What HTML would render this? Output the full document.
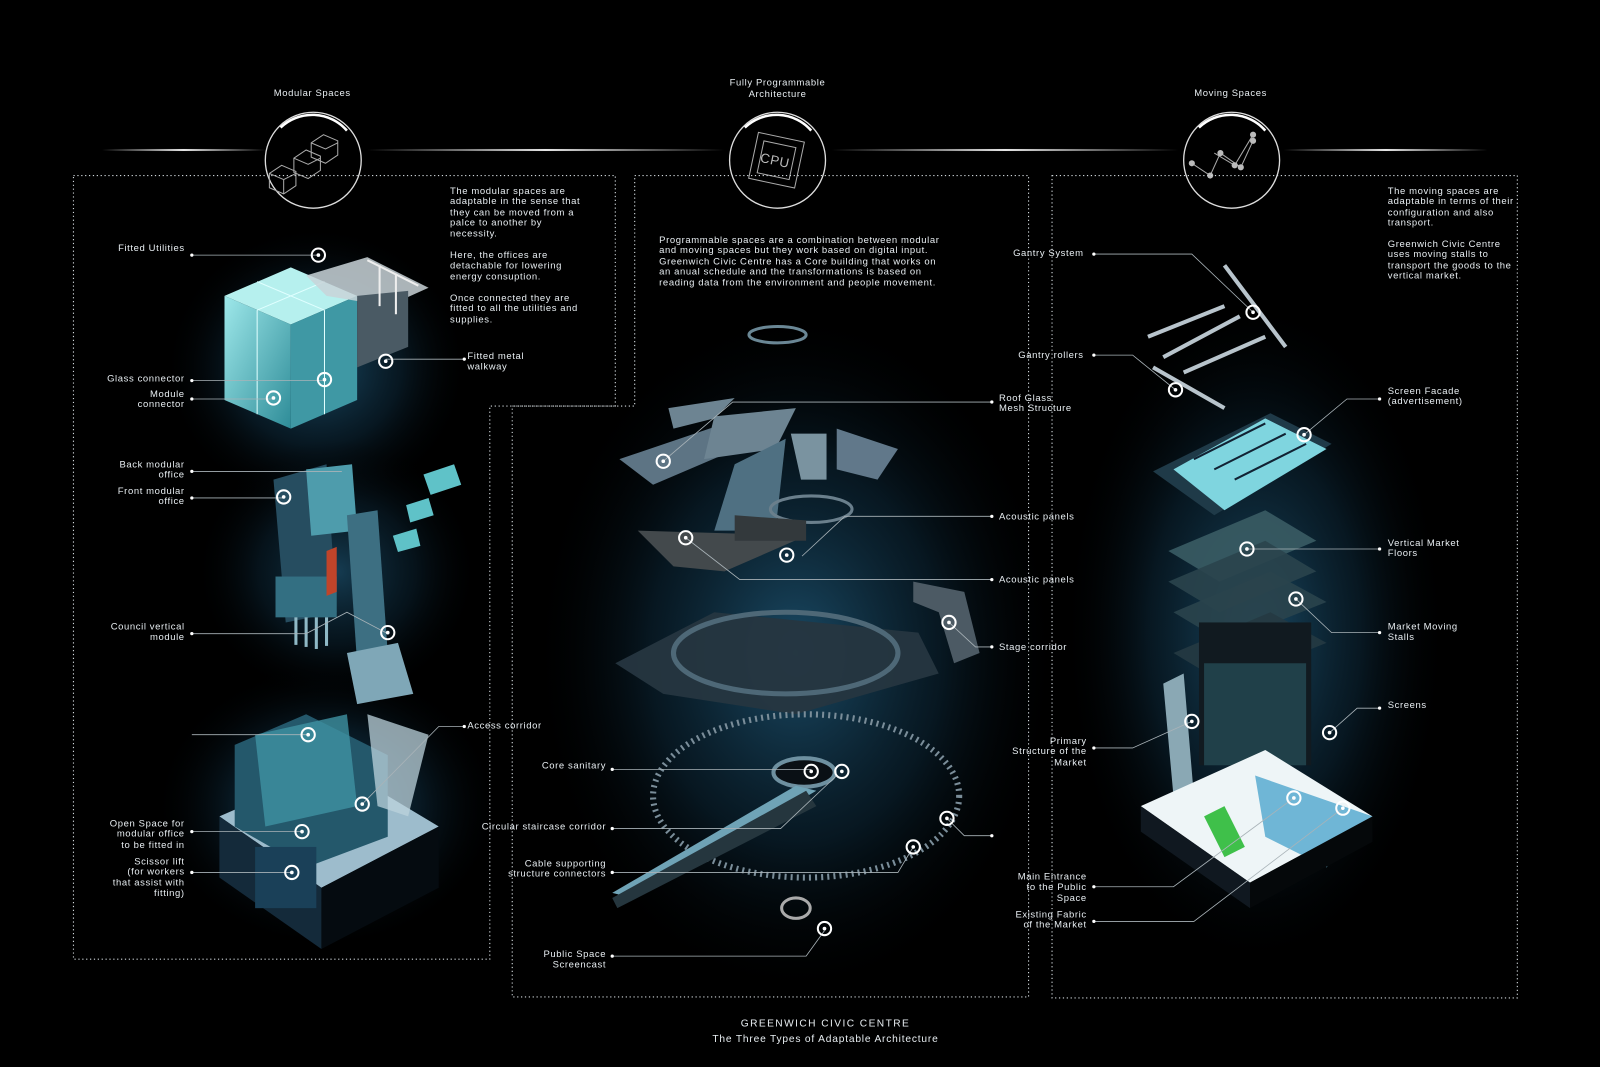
<!DOCTYPE html>
<html><head><meta charset="utf-8"><style>
html,body{margin:0;padding:0;background:#000;width:1600px;height:1067px;overflow:hidden}
#w{position:absolute;left:0;top:0;width:1568px;height:1046px;transform:scale(1.0204);transform-origin:0 0}
svg{display:block}
text{font-family:"Liberation Sans",Arial,sans-serif;font-size:9.3px;fill:#e8eef2;letter-spacing:0.6px}
.dot{fill:none;stroke:#cfd6da;stroke-width:1.1;stroke-dasharray:1.2 2.6}
.ld{stroke:#a9b3b8;stroke-width:0.8;fill:none}
.mk{fill:none;stroke:#fff;stroke-width:2}
</style></head><body><div id="w">
<svg width="1568" height="1046" viewBox="0 0 1568 1046">
<defs>
<radialGradient id="gl" cx="50%" cy="50%" r="50%"><stop offset="0" stop-color="#1f5878" stop-opacity=".85"/><stop offset=".55" stop-color="#0d2a3c" stop-opacity=".55"/><stop offset="1" stop-color="#000" stop-opacity="0"/></radialGradient>
<linearGradient id="hl" x1="0" x2="1"><stop offset="0" stop-color="#fff" stop-opacity="0"/><stop offset=".5" stop-color="#fff" stop-opacity=".9"/><stop offset="1" stop-color="#fff" stop-opacity="0"/></linearGradient>
<linearGradient id="cy" x1="0" y1="0" x2="1" y2="1"><stop offset="0" stop-color="#9ee8ea"/><stop offset="1" stop-color="#2e8c98"/></linearGradient>
<g id="m"><circle r="6.5" class="mk"/><circle r="1.8" fill="#fff"/></g>
</defs>
<rect width="1568" height="1046" fill="#000"/>
<ellipse cx="780" cy="640" rx="260" ry="340" fill="url(#gl)"/>
<ellipse cx="310" cy="360" rx="150" ry="140" fill="url(#gl)"/>
<ellipse cx="330" cy="560" rx="140" ry="130" fill="url(#gl)" opacity=".8"/>
<ellipse cx="320" cy="790" rx="170" ry="140" fill="url(#gl)"/>
<ellipse cx="1230" cy="620" rx="190" ry="330" fill="url(#gl)"/>
<rect x="100" y="146" width="160" height="2" fill="url(#hl)"/>
<rect x="360" y="146" width="350" height="2" fill="url(#hl)"/>
<rect x="815" y="146" width="340" height="2" fill="url(#hl)"/>
<rect x="1258" y="146" width="200" height="2" fill="url(#hl)"/>
<g fill="none" stroke="#ddd" stroke-width="1.3">
<circle cx="307" cy="157" r="47"/><path d="M275 125 A45 45 0 0 1 340 128" stroke="#fff" stroke-width="2.5"/>
<circle cx="762" cy="157" r="47"/><path d="M730 125 A45 45 0 0 1 795 128" stroke="#fff" stroke-width="2.5"/>
<circle cx="1207" cy="157" r="47"/><path d="M1175 125 A45 45 0 0 1 1240 128" stroke="#fff" stroke-width="2.5"/>
</g>
<g fill="none" stroke="#aaa" stroke-width="1">
<path d="M264 170 l12 -8 14 6 v14 l-12 8 -14 -6z M264 170 l14 6 12 -6 M278 176 v14"/>
<path d="M288 155 l12 -8 14 6 v14 l-12 8 -14 -6z M288 155 l14 6 12 -6"/>
<path d="M305 140 l12 -8 14 6 v14 l-12 8 -14 -6z M305 140 l14 6 12 -6"/>
<rect x="738" y="134" width="46" height="46" transform="rotate(12 761 157)"/>
<rect x="745" y="141" width="32" height="32" transform="rotate(12 761 157)"/>
<path d="M1168 160 l18 12 10 -22 20 14 12 -26 M1190 150 l20 12 18 -30"/>
</g>
<text x="745" y="162" style="font-size:13px;fill:#bbb" transform="rotate(12 761 157)">CPU</text>
<g fill="#bbb"><circle cx="1168" cy="160" r="3"/><circle cx="1186" cy="172" r="3"/><circle cx="1196" cy="150" r="3"/><circle cx="1216" cy="164" r="3"/><circle cx="1228" cy="138" r="3"/><circle cx="1210" cy="162" r="3"/><circle cx="1228" cy="132" r="3"/></g>
<path class="dot" d="M72 172 H603 V398 H480 V940 H72 Z"/>
<path class="dot" d="M622 172 H1008 V977 H502 V398 H622 Z"/>
<path class="dot" d="M1031 172 H1487 V978 H1031 Z"/>
<text x="306" y="94" text-anchor="middle">Modular Spaces</text>
<text x="762" y="84" text-anchor="middle">Fully Programmable</text>
<text x="762" y="95" text-anchor="middle">Architecture</text>
<text x="1206" y="94" text-anchor="middle">Moving Spaces</text>
<g>
<text x="441" y="190">The modular spaces are</text><text x="441" y="200">adaptable in the sense that</text><text x="441" y="211">they can be moved from a</text><text x="441" y="221">palce to another by</text><text x="441" y="232">necessity.</text>
<text x="441" y="253">Here, the offices are</text><text x="441" y="263">detachable for lowering</text><text x="441" y="274">energy consuption.</text>
<text x="441" y="295">Once connected they are</text><text x="441" y="305">fitted to all the utilities and</text><text x="441" y="316">supplies.</text>
<text x="646" y="238">Programmable spaces are a combination between modular</text><text x="646" y="248">and moving spaces but they work based on digital input.</text><text x="646" y="259">Greenwich Civic Centre has a Core building that works on</text><text x="646" y="269">an anual schedule and the transformations is based on</text><text x="646" y="280">reading data from the environment and people movement.</text>
<text x="1360" y="190">The moving spaces are</text><text x="1360" y="200">adaptable in terms of their</text><text x="1360" y="211">configuration and also</text><text x="1360" y="221">transport.</text>
<text x="1360" y="242">Greenwich Civic Centre</text><text x="1360" y="252">uses moving stalls to</text><text x="1360" y="263">transport the goods to the</text><text x="1360" y="273">vertical market.</text>
</g>
<g>
<polygon points="220,290 285,262 350,290 285,318" fill="#b6f0ee"/>
<polygon points="220,290 285,318 285,420 220,392" fill="url(#cy)"/>
<polygon points="285,318 350,290 350,392 285,420" fill="#3f98a4"/>
<path d="M252 276 L318 304 M318 276 L252 304 M252 304 v102 M318 304 v102" stroke="#e0ffff" stroke-width="1" fill="none"/>
<polygon points="300,270 360,252 420,282 380,300 320,290" fill="#c9d4d8" opacity=".85"/>
<polygon points="350,290 400,285 400,340 350,360" fill="#4a5a64"/>
<path d="M360 255 l50 25 M372 260 v40 M388 268 v40" stroke="#eee" stroke-width="2"/>
<polygon points="268,470 320,455 330,600 280,610" fill="#264d60"/>
<polygon points="300,460 345,455 350,520 305,525" fill="#4e9cac"/>
<rect x="270" y="565" width="60" height="40" fill="#336f82"/>
<g stroke="#8fb9c6" stroke-width="3"><line x1="290" y1="605" x2="290" y2="632"/><line x1="300" y1="605" x2="300" y2="634"/><line x1="310" y1="605" x2="310" y2="636"/><line x1="320" y1="605" x2="320" y2="633"/></g>
<polygon points="340,505 370,500 380,640 350,650" fill="#3d6f82"/>
<polygon points="320,540 330,536 330,580 320,584" fill="#c0442a"/>
<polygon points="340,640 390,630 405,680 350,690" fill="#7fa7b7"/>
<polygon points="415,465 445,455 452,475 422,485" fill="#5fc2c8"/>
<polygon points="398,495 420,488 425,505 402,512" fill="#5fc2c8"/>
<polygon points="385,525 408,518 412,535 390,541" fill="#5fc2c8"/>
<polygon points="215,800 330,750 430,810 315,870" fill="#9dbccc"/>
<polygon points="215,800 315,870 315,930 215,860" fill="#142a3a"/>
<polygon points="315,870 430,810 430,870 315,930" fill="#050b10"/>
<polygon points="230,730 300,700 380,740 380,820 300,850 230,810" fill="#24586b"/>
<polygon points="250,720 340,700 350,790 260,810" fill="#3f92a2" opacity=".8"/>
<polygon points="360,700 420,720 400,800 370,790" fill="#bcd3dc" opacity=".75"/>
<rect x="250" y="830" width="60" height="60" fill="#1a4058"/>
</g>
<g>
<ellipse cx="762" cy="328" rx="28" ry="8" fill="none" stroke="#6a8795" stroke-width="3"/>
<polygon points="607,450 710,415 722,440 640,475" fill="#5d7484"/>
<polygon points="700,408 780,400 760,440 690,450" fill="#6d8492"/>
<polygon points="720,455 770,430 760,520 700,520" fill="#4f7082"/>
<polygon points="775,425 810,425 810,470 785,470" fill="#7a93a0"/>
<polygon points="820,420 880,440 860,470 820,460" fill="#61788a"/>
<polygon points="655,400 720,390 700,410 660,420" fill="#6d8492"/>
<ellipse cx="795" cy="499" rx="40" ry="13" fill="none" stroke="#6a7f8c" stroke-width="3"/>
<polygon points="625,520 790,525 710,560 660,555" fill="#43494c"/>
<polygon points="720,505 790,510 790,530 720,530" fill="#33393c"/>
<polygon points="895,570 945,580 960,640 935,650 920,600 895,590" fill="#4c5a64"/>
<polygon points="603,650 700,600 900,620 920,660 780,700 650,680" fill="#263640" opacity=".95"/>
<ellipse cx="770" cy="640" rx="110" ry="40" fill="none" stroke="#4e6877" stroke-width="5"/>
<ellipse cx="790" cy="780" rx="150" ry="80" fill="none" stroke="#7a8d99" stroke-width="6" stroke-dasharray="2 4"/>
<ellipse cx="788" cy="757" rx="30" ry="14" fill="#0a1015" stroke="#6e90a0" stroke-width="4"/>
<polygon points="600,875 780,770 800,775 620,880" fill="#6fa3b6"/>
<polygon points="600,880 790,775 800,790 605,890" fill="#25363e"/>
<ellipse cx="780" cy="890" rx="14" ry="10" fill="none" stroke="#aaa" stroke-width="3"/>
</g>
<g>
<path d="M1125 330 L1200 300 M1140 350 L1215 310 M1160 365 L1240 330 M1200 260 L1260 340 M1130 360 L1200 400" stroke="#b8c4cc" stroke-width="4" fill="none"/>
<polygon points="1130,462 1245,405 1305,435 1190,505" fill="#1f3a48"/>
<polygon points="1150,460 1240,410 1300,440 1200,500" fill="#7fd5df"/>
<path d="M1170 450 l70 -35 M1190 460 l70 -35 M1210 470 l70 -35" stroke="#123" stroke-width="2"/>
<polygon points="1145,540 1240,500 1290,530 1195,570" fill="#3a5c64" opacity=".9"/>
<polygon points="1145,570 1240,530 1290,560 1195,600" fill="#2a444c" opacity=".9"/>
<polygon points="1150,600 1245,560 1300,590 1200,630" fill="#2a444c" opacity=".9"/>
<polygon points="1150,640 1245,600 1300,630 1200,670" fill="#253a42" opacity=".9"/>
<rect x="1175" y="610" width="110" height="140" fill="#111a20"/>
<rect x="1180" y="650" width="100" height="100" fill="#2c5a66" opacity=".6"/>
<polygon points="1140,670 1160,660 1170,780 1150,780" fill="#8aa8b4"/>
<polygon points="1118,790 1240,735 1345,800 1225,865" fill="#eef5f7"/>
<polygon points="1230,760 1345,800 1300,850 1240,820" fill="#6fb6d6"/>
<polygon points="1118,790 1225,865 1225,890 1118,815" fill="#101820"/>
<polygon points="1225,865 1345,800 1345,825 1225,890" fill="#05080a"/>
<polygon points="1180,800 1200,790 1220,830 1200,840" fill="#3fc04a"/>
</g>
<g class="ld">
<path d="M188 250 H312"/><path d="M188 373 H318"/><path d="M188 391 H268"/><path d="M188 462 H335"/><path d="M188 488 H278"/><path d="M188 621 H300 L340 600 L380 621"/><path d="M188 720 H302"/><path d="M188 815 H296"/><path d="M188 855 H286"/>
<path d="M455 352 L378 352"/><path d="M455 712 H430 L355 788"/>
</g>
<g fill="#fff"><circle cx="188" cy="250" r="1.6"/><circle cx="188" cy="373" r="1.6"/><circle cx="188" cy="391" r="1.6"/><circle cx="188" cy="462" r="1.6"/><circle cx="188" cy="488" r="1.6"/><circle cx="188" cy="621" r="1.6"/><circle cx="188" cy="815" r="1.6"/><circle cx="188" cy="855" r="1.6"/><circle cx="455" cy="352" r="1.6"/><circle cx="455" cy="712" r="1.6"/></g>
<use href="#m" x="312" y="250"/><use href="#m" x="378" y="354"/><use href="#m" x="318" y="372"/><use href="#m" x="268" y="390"/><use href="#m" x="278" y="487"/><use href="#m" x="380" y="620"/><use href="#m" x="302" y="720"/><use href="#m" x="355" y="788"/><use href="#m" x="296" y="815"/><use href="#m" x="286" y="855"/>
<g text-anchor="end">
<text x="181" y="246">Fitted Utilities</text>
<text x="181" y="374">Glass connector</text>
<text x="181" y="389">Module</text><text x="181" y="399">connector</text>
<text x="181" y="458">Back modular</text><text x="181" y="468">office</text>
<text x="181" y="484">Front modular</text><text x="181" y="494">office</text>
<text x="181" y="617">Council vertical</text><text x="181" y="627">module</text>
<text x="181" y="810">Open Space for</text><text x="181" y="820">modular office</text><text x="181" y="831">to be fitted in</text>
<text x="181" y="847">Scissor lift</text><text x="181" y="857">(for workers</text><text x="181" y="868">that assist with</text><text x="181" y="878">fitting)</text>
</g>
<text x="458" y="352">Fitted metal</text><text x="458" y="362">walkway</text>
<text x="458" y="714">Access corridor</text>
<g class="ld">
<path d="M972 394 H718 L650 452"/><path d="M972 506 H828 L786 545"/><path d="M972 568 H725 L672 527"/><path d="M972 634 H956 L930 610"/>
<path d="M600 754 H795"/><path d="M600 812 H765 L820 760"/><path d="M600 855 H880 L895 830"/><path d="M600 937 H790 L808 912"/><path d="M972 819 H945 L928 802"/>
</g>
<g fill="#fff"><circle cx="972" cy="394" r="1.6"/><circle cx="972" cy="506" r="1.6"/><circle cx="972" cy="568" r="1.6"/><circle cx="972" cy="634" r="1.6"/><circle cx="600" cy="754" r="1.6"/><circle cx="600" cy="812" r="1.6"/><circle cx="600" cy="855" r="1.6"/><circle cx="600" cy="937" r="1.6"/><circle cx="972" cy="819" r="1.6"/></g>
<use href="#m" x="650" y="452"/><use href="#m" x="672" y="527"/><use href="#m" x="771" y="544"/><use href="#m" x="930" y="610"/><use href="#m" x="795" y="756"/><use href="#m" x="825" y="756"/><use href="#m" x="928" y="802"/><use href="#m" x="895" y="830"/><use href="#m" x="808" y="910"/>
<text x="979" y="393">Roof Glass</text><text x="979" y="403">Mesh Structure</text>
<text x="979" y="509">Acoustic panels</text>
<text x="979" y="571">Acoustic panels</text>
<text x="979" y="637">Stage corridor</text>
<g text-anchor="end">
<text x="594" y="753">Core sanitary</text>
<text x="594" y="813">Circular staircase corridor</text>
<text x="594" y="849">Cable supporting</text><text x="594" y="859">structure connectors</text>
<text x="594" y="938">Public Space</text><text x="594" y="948">Screencast</text>
</g>
<g class="ld">
<path d="M1072 249 H1168 L1228 306"/><path d="M1072 348 H1110 L1152 382"/><path d="M1352 391 H1320 L1278 426"/><path d="M1352 538 H1222"/><path d="M1352 620 H1305 L1270 587"/><path d="M1352 694 H1330 L1303 718"/><path d="M1072 733 H1110 L1168 707"/><path d="M1072 869 H1150 L1268 782"/><path d="M1072 903 H1170 L1316 792"/>
</g>
<g fill="#fff"><circle cx="1072" cy="249" r="1.6"/><circle cx="1072" cy="348" r="1.6"/><circle cx="1352" cy="391" r="1.6"/><circle cx="1352" cy="538" r="1.6"/><circle cx="1352" cy="620" r="1.6"/><circle cx="1352" cy="694" r="1.6"/><circle cx="1072" cy="733" r="1.6"/><circle cx="1072" cy="869" r="1.6"/><circle cx="1072" cy="903" r="1.6"/></g>
<use href="#m" x="1228" y="306"/><use href="#m" x="1152" y="382"/><use href="#m" x="1278" y="426"/><use href="#m" x="1222" y="538"/><use href="#m" x="1270" y="587"/><use href="#m" x="1303" y="718"/><use href="#m" x="1168" y="707"/><use href="#m" x="1268" y="782"/><use href="#m" x="1316" y="792"/>
<g text-anchor="end">
<text x="1062" y="251">Gantry System</text>
<text x="1062" y="351">Gantry rollers</text>
<text x="1065" y="729">Primary</text><text x="1065" y="739">Structure of the</text><text x="1065" y="750">Market</text>
<text x="1065" y="862">Main Entrance</text><text x="1065" y="872">to the Public</text><text x="1065" y="883">Space</text>
<text x="1065" y="899">Existing Fabric</text><text x="1065" y="909">of the Market</text>
</g>
<text x="1360" y="386">Screen Facade</text><text x="1360" y="396">(advertisement)</text>
<text x="1360" y="535">Vertical Market</text><text x="1360" y="545">Floors</text>
<text x="1360" y="617">Market Moving</text><text x="1360" y="627">Stalls</text>
<text x="1360" y="694">Screens</text>
<text x="809" y="1006" text-anchor="middle" style="font-size:10px;letter-spacing:1.4px">GREENWICH CIVIC CENTRE</text>
<text x="809" y="1021" text-anchor="middle" style="font-size:10px;letter-spacing:0.8px">The Three Types of Adaptable Architecture</text>
</svg></div></body></html>
